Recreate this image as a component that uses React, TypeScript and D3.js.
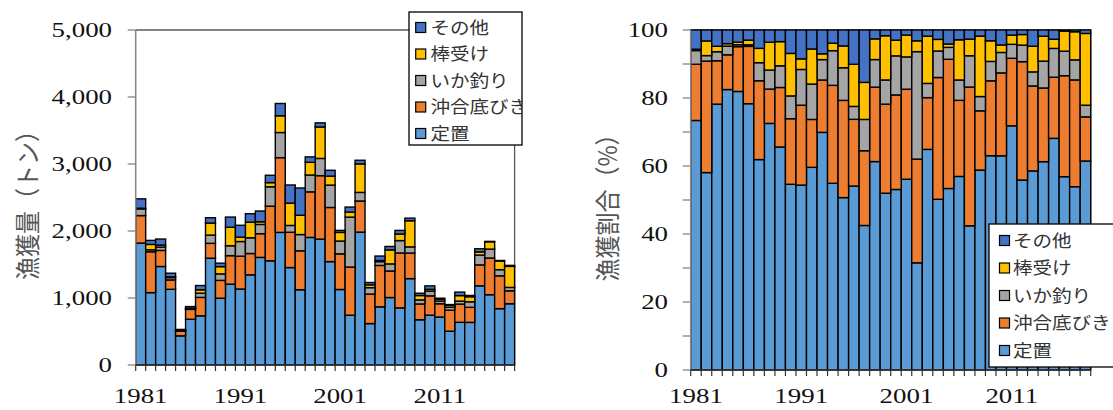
import React from "react";
import * as d3 from "d3";

// catch by gear type, tons, 1981-2018
const years = [
  1981, 1982, 1983, 1984, 1985, 1986, 1987, 1988, 1989, 1990,
  1991, 1992, 1993, 1994, 1995, 1996, 1997, 1998, 1999, 2000,
  2001, 2002, 2003, 2004, 2005, 2006, 2007, 2008, 2009, 2010,
  2011, 2012, 2013, 2014, 2015, 2016, 2017, 2018,
];
const teichi = [1820, 1080, 1470, 1130, 435, 683, 734, 1594, 997, 1206, 1134, 1346, 1606, 1555, 1979, 1454, 1123, 1904, 1879, 1543, 1127, 743, 1983, 618, 868, 1007, 852, 1289, 675, 744, 716, 504, 637, 636, 1182, 1049, 841, 914];
const okiai = [410, 610, 240, 140, 70, 147, 275, 222, 266, 426, 490, 318, 354, 816, 1116, 527, 581, 680, 947, 808, 532, 719, 465, 441, 618, 396, 820, 382, 236, 288, 198, 314, 272, 225, 312, 548, 490, 193];
const ika = [100, 30, 50, 35, 3, 4, 63, 123, 97, 148, 219, 235, 138, 289, 375, 102, 243, 252, 257, 334, 191, 745, 128, 96, 57, 106, 185, 92, 61, 71, 41, 44, 45, 82, 147, 133, 92, 51];
const bouuke = [10, 80, 30, 10, 4, 12, 50, 180, 108, 276, 65, 233, 39, 62, 250, 333, 288, 189, 470, 134, 129, 75, 425, 42, 16, 209, 98, 390, 65, 26, 27, 28, 82, 76, 47, 109, 129, 314];
const sonota = [140, 60, 90, 55, 19, 26, 64, 79, 52, 152, 177, 126, 161, 110, 183, 271, 407, 81, 61, 87, 30, 75, 55, 34, 67, 51, 54, 39, 34, 52, 15, 12, 52, 19, 47, 6, 8, 15];

const seriesNames = ["定置", "沖合底びき", "いか釣り", "棒受け", "その他"];
const seriesColors = ["#5B9BD5", "#ED7D31", "#A5A5A5", "#FFC000", "#4472C4"];
const tonTicks = [0, 1000, 2000, 3000, 4000, 5000];
const pctTicks = [0, 20, 40, 60, 80, 100];
const pctMinorTicks = [10, 30, 50, 70, 90];
const yearLabels = [1981, 1991, 2001, 2011];

const rows = years.map((y, i) => ({
  year: y,
  定置: teichi[i],
  沖合底びき: okiai[i],
  いか釣り: ika[i],
  棒受け: bouuke[i],
  その他: sonota[i],
}));

const W = 1113;
const H = 410;
const SX = 1.28; // the source image is stretched horizontally
const serif = "'Liberation Serif', 'Times New Roman', serif";
const jp = "'Noto Sans CJK JP', 'Noto Sans', sans-serif";

const Stretched = ({ x, y, anchor = "start", size, family, fill = "#111", children }: any) => (
  <text
    transform={`translate(${x},${y}) scale(${SX},1)`}
    textAnchor={anchor}
    fontSize={size}
    fontFamily={family}
    fill={fill}
  >
    {children}
  </text>
);

const Legend = ({ id, x, y, w, h, first, step, markX, textX }: any) => (
  <g>
    <clipPath id={id}>
      <rect x={x} y={y} width={w} height={h} />
    </clipPath>
    <rect x={x} y={y} width={w} height={h} fill="#fff" stroke="#000" strokeWidth={1.3} />
    <g clipPath={`url(#${id})`}>
      {seriesNames
        .map((n, i) => ({ n, c: seriesColors[i] }))
        .reverse()
        .map((d, i) => {
          const cy = first + i * step;
          return (
            <g key={d.n}>
              <rect x={markX} y={cy - 5} width={10} height={10} fill={d.c} stroke="#000" strokeWidth={1.2} />
              <text
                transform={`translate(${textX},${cy + 6}) scale(1.15,1)`}
                fontSize={17}
                fontFamily={jp}
                fill="#333"
              >
                {d.n}
              </text>
            </g>
          );
        })}
    </g>
  </g>
);

type PanelProps = {
  x0: number; x1: number; yZero: number; yTop: number;
  expand: boolean; ticks: number[]; minor: number[];
  fmt: (v: number) => string; labelRight: number;
  title: string; titleX: number;
};

const Panel = ({ x0, x1, yZero, yTop, expand, ticks, minor, fmt, labelRight, title, titleX }: PanelProps) => {
  const stacked = d3
    .stack<any>()
    .keys(seriesNames)
    .offset(expand ? d3.stackOffsetExpand : d3.stackOffsetNone)(rows);
  const x = d3.scaleBand<number>().domain(years).range([x0, x1]).padding(0);
  const yMax = expand ? 100 : 5000;
  const y = d3.scaleLinear().domain([0, yMax]).range([yZero, yTop]);
  const k = expand ? 100 : 1;
  const bw = x.bandwidth();

  return (
    <g>
      {/* plot area frame */}
      <path d={`M${x0},${yTop}H${x1}V${yZero}`} fill="none" stroke="#595959" strokeWidth={1.3} />
      {stacked.map((s, si) => (
        <g key={s.key} fill={seriesColors[si]}>
          {s.map((d, i) => (
            <rect
              key={i}
              x={x(years[i])}
              y={y(d[1] * k)}
              width={bw}
              height={Math.max(0, y(d[0] * k) - y(d[1] * k))}
              stroke="#000"
              strokeWidth={1.4}
            />
          ))}
        </g>
      ))}
      {/* y axis */}
      <line x1={x0} x2={x0} y1={yTop} y2={yZero} stroke="#868686" strokeWidth={1.5} />
      {[...ticks, ...minor].map((t) => (
        <line key={t} x1={x0 - 8} x2={x0} y1={y(t)} y2={y(t)} stroke="#868686" strokeWidth={1.3} />
      ))}
      {ticks.map((t) => (
        <Stretched key={t} x={labelRight} y={y(t) + 7} anchor="end" size={21} family={serif}>
          {fmt(t)}
        </Stretched>
      ))}
      {/* x axis */}
      <line x1={x0} x2={x1} y1={yZero} y2={yZero} stroke="#333" strokeWidth={1.5} />
      {d3.range(years.length + 1).map((i) => (
        <line key={i} x1={x0 + i * bw} x2={x0 + i * bw} y1={yZero} y2={yZero + 6} stroke="#333" strokeWidth={1.2} />
      ))}
      {yearLabels.map((yr) => (
        <Stretched key={yr} x={(x(yr) as number) + bw / 2} y={403} anchor="middle" size={21} family={serif}>
          {yr}
        </Stretched>
      ))}
      <text
        transform={`translate(${titleX},${(yTop + yZero) / 2 + 2}) scale(1.1,1) rotate(-90)`}
        textAnchor="middle"
        dominantBaseline="central"
        fontSize={23}
        fontFamily={jp}
        fill="#555"
      >
        {title}
      </text>
    </g>
  );
};

const fmtTon = d3.format(",");

export default function App() {
  return (
    <svg
      width={W}
      height={H}
      style={{ position: "absolute", left: 0, top: 0, background: "#fff" }}
    >
      <Panel
        x0={135.7} x1={514.6} yZero={365} yTop={30}
        expand={false} ticks={tonTicks} minor={[]}
        fmt={fmtTon} labelRight={112}
        title="漁獲量（トン）" titleX={26}
      />
      <Panel
        x0={690.7} x1={1090.7} yZero={370} yTop={30}
        expand={true} ticks={pctTicks} minor={pctMinorTicks}
        fmt={(v) => String(v)} labelRight={668}
        title="漁獲割合（%）" titleX={606}
      />
      <Legend id="lg1" x={409} y={12} w={113} h={133} first={27.5} step={26.5} markX={415.7} textX={430.5} />
      <Legend id="lg2" x={989} y={224} w={140} h={143} first={240.5} step={27.5} markX={999.5} textX={1013} />
    </svg>
  );
}
